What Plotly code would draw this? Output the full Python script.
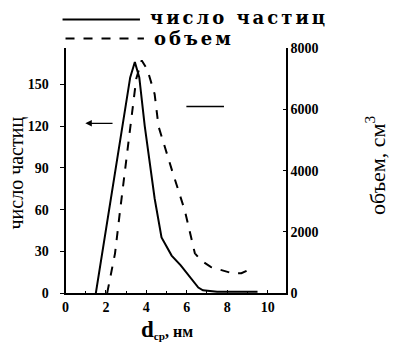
import plotly.graph_objects as go

# ---- data ----
count_x = [1.5, 2.15, 2.8, 3.2, 3.43, 3.65, 3.92, 4.2, 4.41, 4.75, 5.25, 5.7, 6.08, 6.57, 6.8, 7.5, 8.5, 9.5]
count_y = [0, 60, 120, 155, 166, 155, 120, 88, 68, 40, 27, 20, 13, 4, 2, 1, 1, 1]

vol_x = [2.06, 2.45, 2.7, 2.95, 3.2, 3.5, 3.77, 4.05, 4.41, 4.6, 5.25, 5.9, 6.4, 6.72, 7.2, 7.7, 8.3, 8.7, 9.2]
vol_y = [0, 1300, 2700, 4050, 5450, 7000, 7600, 7300, 6500, 5450, 4050, 2700, 1300, 1060, 850, 760, 640, 650, 800]

x_ticks = [0, 2, 4, 6, 8, 10]
left_ticks = [0, 30, 60, 90, 120, 150]
right_ticks = [0, 2000, 4000, 6000, 8000]

W, H = 393, 349
def px(x):
    return x / W
def py(y):
    return 1 - y / H

FONT = "Liberation Serif"
tickfont = dict(family=FONT, size=14, color="black", weight="bold")

fig = go.Figure()
fig.add_trace(go.Scatter(x=count_x, y=count_y, mode="lines", name="число частиц",
                         line=dict(color="black", width=2), showlegend=False))
fig.add_trace(go.Scatter(x=vol_x, y=vol_y, mode="lines", name="объем", yaxis="y2",
                         line=dict(color="black", width=2, dash="dash"), showlegend=False))

fig.update_layout(
    width=W, height=H,
    margin=dict(l=0, r=0, t=0, b=0),
    paper_bgcolor="white", plot_bgcolor="white",
    xaxis=dict(domain=[px(63), px(285)], range=[0, 10.9], tickvals=x_ticks,
               showgrid=False, zeroline=False, showline=True, linecolor="black", linewidth=2,
               ticks="inside", ticklen=3, tickcolor="black", tickfont=tickfont,
               minor=dict(dtick=1, ticks="inside", ticklen=2, tickcolor="black")),
    yaxis=dict(domain=[py(299), py(43)], range=[0, 176], tickvals=left_ticks,
               showgrid=False, zeroline=False, showline=True, linecolor="black", linewidth=2,
               ticks="outside", ticklen=4, tickcolor="black", tickfont=tickfont,
               ticklabelstandoff=8),
    yaxis2=dict(overlaying="y", side="right", anchor="x", range=[0, 8000], tickvals=right_ticks,
                showgrid=False, zeroline=False, showline=True, linecolor="black", linewidth=2,
                ticks="inside", ticklen=3, tickcolor="black", tickfont=tickfont),
)

# legend drawn manually
fig.add_shape(type="line", xref="paper", yref="paper", x0=px(60), x1=px(138), y0=py(13), y1=py(13),
              line=dict(color="black", width=2))
fig.add_shape(type="line", xref="paper", yref="paper", x0=px(63), x1=px(142), y0=py(33), y1=py(33),
              line=dict(color="black", width=2, dash="dash"))
fig.add_annotation(xref="paper", yref="paper", x=px(146), y=py(11), xanchor="left", yanchor="middle",
                   text="<span style='letter-spacing:3px'>число частиц</span>", showarrow=False,
                   font=dict(family="DejaVu Serif", size=18, color="black", weight="bold"))
fig.add_annotation(xref="paper", yref="paper", x=px(150), y=py(33), xanchor="left", yanchor="middle",
                   text="<span style='letter-spacing:3px'>объем</span>", showarrow=False,
                   font=dict(family="DejaVu Serif", size=18, color="black", weight="bold"))

# axis titles
fig.add_annotation(xref="paper", yref="paper", x=px(14), y=py(173), textangle=-90,
                   xanchor="center", yanchor="middle",
                   text="число частиц", showarrow=False,
                   font=dict(family=FONT, size=20, color="black"))
fig.add_annotation(xref="paper", yref="paper", x=px(375), y=py(166), textangle=-90,
                   xanchor="center", yanchor="middle",
                   text="объем, см<sup>3</sup>", showarrow=False,
                   font=dict(family=FONT, size=22, color="black"))
fig.add_annotation(xref="paper", yref="paper", x=px(165), y=py(352), xanchor="center", yanchor="bottom",
                   text="<span style='font-size:23px'>d</span><sub>ср</sub>, нм", showarrow=False,
                   font=dict(family=FONT, size=16, color="black", weight="bold"))

# arrows indicating axes
fig.add_annotation(x=0.98, y=122, ax=2.4, ay=122, xref="x", yref="y", axref="x", ayref="y",
                   text="", showarrow=True, arrowhead=2, arrowsize=1, arrowwidth=1.3, arrowcolor="black")
fig.add_shape(type="line", xref="x", yref="y", x0=5.98, x1=7.84, y0=134, y1=134,
              line=dict(color="black", width=1.5))

fig.write_html("out.html")
